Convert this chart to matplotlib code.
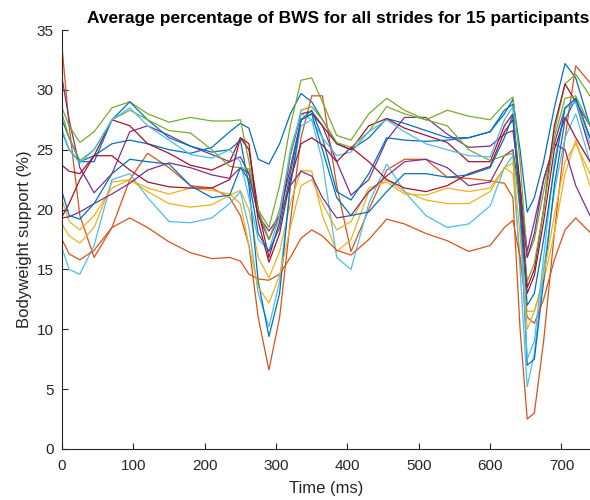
# average BWS curves for 15 participants
import matplotlib
matplotlib.use("Agg")
import matplotlib.pyplot as plt

plt.rcParams["font.family"] = ["Liberation Sans", "DejaVu Sans"]

t = [0, 10, 25, 45, 70, 95, 120, 150, 180, 210, 235, 250, 262, 275, 290, 305,
     320, 335, 350, 365, 385, 405, 430, 455, 480, 510, 540, 570, 600, 620, 632,
     642, 652, 662, 675, 690, 705, 720, 740]

p01 = [26.5, 25, 24, 24.5, 25.5, 25.8, 25.5, 25, 24.7, 25.2, 26.5, 27.2, 26.8, 24.2, 23.8, 25.5,
       28, 29.7, 29, 27.5, 25.5, 25, 26, 27.6, 27.2, 26.6, 26, 26, 26.5, 28, 29.2,
       25, 19.8, 21, 24, 28.5, 32.2, 31, 27]
p02 = [33.6, 27, 19.5, 16, 18.5, 22.5, 24.7, 23.5, 22, 21.8, 21, 19.5, 17, 11, 6.6, 11,
       19, 26, 29.5, 29.5, 22, 16.5, 20, 23.3, 24.2, 24.2, 22.7, 22.6, 22.4, 22.2, 21,
       10, 2.5, 3, 9, 18, 26, 32, 30.6]
p03 = [18.8, 17.8, 17.2, 18.5, 22.3, 22.5, 21.5, 20.5, 20.2, 20.4, 21.2, 21.6, 20, 16, 14.3, 16.5,
       20.5, 23.3, 23.2, 19.5, 16.5, 17.5, 21.5, 22.5, 21.5, 20.8, 20.5, 20.5, 21.5, 23.5, 23,
       16, 11.5, 11.5, 14, 18, 23, 25.8, 22]
p04 = [31, 27.5, 23.5, 21.4, 23, 26.5, 27, 26.2, 25.3, 24.6, 24, 24.4, 23, 19.5, 17.5, 19.5,
       23.5, 27.5, 28, 27, 24, 21.2, 22.5, 25.8, 27.7, 27.7, 26.3, 25.2, 25.3, 26.3, 26.6,
       22, 16.5, 19, 22.5, 25.5, 28.5, 29, 27]
p05 = [28.5, 27, 25.6, 26.5, 28.5, 29, 28, 27.3, 27.7, 27.4, 27.4, 27.5, 24, 20, 18.5, 22,
       27, 30.8, 31, 29, 26.2, 25.8, 28, 29.3, 28.3, 27.5, 28.3, 27.8, 27.5, 28.8, 29.4,
       24, 16, 17.5, 21.5, 26.5, 30.5, 31.3, 29.5]
p06 = [16.8, 15, 14.6, 17, 22.5, 23, 21, 19, 18.9, 19.3, 20.5, 21.5, 18.5, 13, 10.2, 14,
       22, 27, 27.5, 24, 16, 15, 20.5, 23.8, 21.5, 19.5, 18.5, 18.8, 20.3, 23.5, 24.5,
       15, 5.2, 8, 15, 21.5, 26, 28, 24]
p07 = [23.7, 23.2, 23, 24.5, 27.5, 27, 25.5, 24.7, 23.7, 23.3, 24, 26, 25, 20, 16, 19,
       24.5, 28, 28.2, 27, 25.5, 25, 27, 27.6, 26.8, 26.2, 25.6, 24, 24, 27, 28,
       22, 13.5, 15, 20, 27, 30.5, 29, 25]
p08 = [27.5, 26, 24, 24, 27.5, 29, 27.5, 26, 25.3, 24.8, 25, 25.8, 22, 14, 9.4, 13,
       22, 27.5, 28.3, 26, 21.5, 20.8, 23, 26, 25.8, 25.7, 25.8, 26, 26.5, 28.3, 28.8,
       20, 7, 7.5, 14, 22, 27.5, 29.3, 26]
p09 = [17.5, 16.3, 15.8, 16.6, 18.5, 19.3, 18.5, 17.3, 16.4, 15.9, 16, 15.7, 14.6, 14.2, 14.1, 14.6,
       16, 17.6, 18.3, 17.8, 16.6, 16.2, 17.5, 19.2, 18.8, 18, 17.4, 16.5, 17, 18.5, 19.1,
       16, 11, 10.5, 12.5, 15.8, 18.3, 19.3, 18.1]
p10 = [20.8, 19, 18.3, 19.5, 21.8, 22.5, 21.8, 21.3, 21.8, 21.6, 21.3, 20.5, 17, 13.5, 12.2, 14.5,
       18.5, 22, 22.5, 20.5, 18.3, 19, 21.8, 22.3, 21.3, 21.2, 21.8, 21.5, 21.8, 23.5, 23.9,
       18, 10, 11.5, 14.5, 19.5, 24, 25.5, 23]
p11 = [19.3, 19.4, 19.8, 20.5, 21.3, 22.2, 23.3, 23.9, 23.5, 22.9, 22.6, 23.5, 23, 19.5, 18.2, 19.5,
       22, 23.2, 22.8, 21, 19.3, 19.5, 21.5, 22.8, 24, 24.2, 23.5, 22, 22.3, 24.5, 25,
       21, 16, 18, 22.5, 25.5, 25, 22, 19.5]
p12 = [28, 26, 24.1, 25, 27.5, 28.3, 27.5, 26.6, 26.4, 25, 23.6, 23.5, 23.4, 20, 17.5, 20,
       24.5, 28.3, 28.6, 27.5, 25.6, 25.2, 26.5, 28.6, 28, 27.5, 27, 25, 24.1, 24.5, 24.7,
       20, 14, 15.5, 20, 26, 29.3, 29.5, 27]
p13 = [26.7, 25, 23.9, 25, 27.5, 28.5, 27, 25.8, 24.6, 24.3, 25, 24, 21, 17.5, 16.6, 19.5,
       25, 28, 27.5, 26, 24.5, 24.8, 26.5, 27.5, 26.5, 25.5, 25, 24.5, 24.4, 27.5, 28.6,
       20, 7.5, 9, 16, 24, 28.5, 29, 25.5]
p14 = [19.4, 20.5, 22.5, 24.5, 24.5, 23.3, 22.3, 21.9, 21.8, 21.8, 22.5, 26, 25.5, 19, 15.6, 18,
       22.5, 25.5, 26, 25.4, 24, 25.2, 24, 22.5, 21.8, 21.5, 22, 23, 23.6, 26.5, 27.5,
       21, 13, 14.5, 19, 25, 27.7, 26, 24]
p15 = [21.5, 19.5, 19.2, 20.5, 23, 24.2, 24, 23.8, 22, 21, 21.2, 23.5, 22.5, 18, 16.5, 18.5,
       23, 27.5, 28, 25, 21, 19.5, 19.8, 21.5, 23, 23, 22.7, 22.9, 23.5, 26, 27.9,
       20, 12, 13, 17.5, 23.5, 28.5, 29.3, 26]

participants = [p01, p02, p03, p04, p05, p06, p07, p08, p09, p10, p11, p12, p13, p14, p15]
colors = ["#0072BD", "#D95319", "#EDB120", "#7E2F8E", "#77AC30", "#4DBEEE", "#A2142F"]

fig = plt.figure(figsize=(5.9, 5.0), dpi=100)
ax = fig.add_axes([62 / 590, 1 - 449 / 500, 528 / 590, 419 / 500])

for i, vals in enumerate(participants):
    ax.plot(t, vals, lw=0.9, color=colors[i % len(colors)])

ax.set_xlim(0, 740)
ax.set_ylim(0, 35)
ax.set_xticks(range(0, 701, 100))
ax.set_yticks(range(0, 36, 5))
ax.spines["top"].set_visible(False)
ax.spines["right"].set_visible(False)
for s in ("left", "bottom"):
    ax.spines[s].set_color("#262626")
    ax.spines[s].set_linewidth(0.8)
ax.tick_params(direction="in", length=4, width=0.8, colors="#262626", labelsize=11)
ax.tick_params(axis="x", pad=7)
ax.tick_params(axis="y", pad=6)

ax.set_title("Average percentage of BWS for all strides for 15 participants",
             fontsize=12.5, fontweight="bold", x=0.523, pad=5)
ax.set_xlabel("Time (ms)", fontsize=12, color="#262626", labelpad=6)
ax.set_ylabel("Bodyweight support (%)", fontsize=12, color="#262626", labelpad=3)

fig.savefig("out.png", dpi=100)
